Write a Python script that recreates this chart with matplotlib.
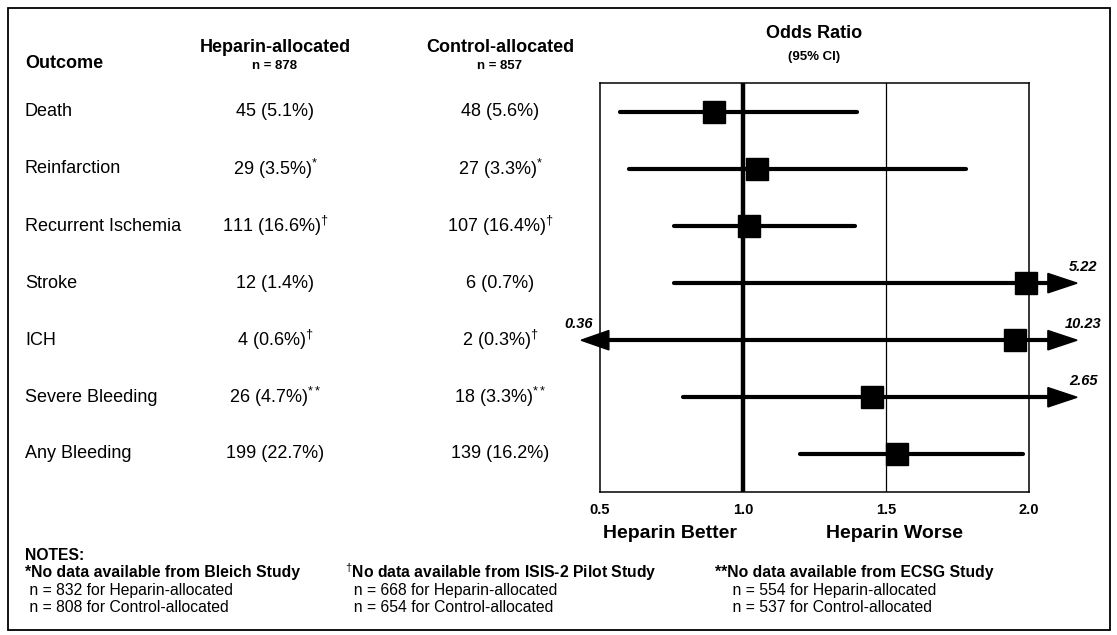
import matplotlib
matplotlib.use('Agg')
import matplotlib.pyplot as plt
from matplotlib.patches import Rectangle, Polygon

plt.rcParams['font.family'] = ['Liberation Sans', 'DejaVu Sans']
plt.rcParams['mathtext.fontset'] = 'custom'
plt.rcParams['mathtext.rm'] = 'Liberation Sans'
plt.rcParams['mathtext.bf'] = 'Liberation Sans:bold'

# data
outcomes = ['Death', 'Reinfarction', 'Recurrent Ischemia', 'Stroke', 'ICH',
            'Severe Bleeding', 'Any Bleeding']
heparin_vals = ['45 (5.1%)', '29 (3.5%)$^{*}$', '111 (16.6%)$^{†}$', '12 (1.4%)',
                '4 (0.6%)$^{†}$', '26 (4.7%)$^{**}$', '199 (22.7%)']
control_vals = ['48 (5.6%)', '27 (3.3%)$^{*}$', '107 (16.4%)$^{†}$', '6 (0.7%)',
                '2 (0.3%)$^{†}$', '18 (3.3%)$^{**}$', '139 (16.2%)']
odds = [0.90, 1.05, 1.02, 1.99, 1.95, 1.45, 1.54]
ci_lo = [0.57, 0.60, 0.76, 0.76, 0.36, 0.79, 1.20]
ci_hi = [1.40, 1.78, 1.39, 5.22, 10.23, 2.65, 1.98]
xticks = [0.5, 1.0, 1.5, 2.0]
notes = [
    ['NOTES:', '*No data available from Bleich Study',
     ' n = 832 for Heparin-allocated', ' n = 808 for Control-allocated'],
    ['', '$^{†}$No data available from ISIS-2 Pilot Study',
     '  n = 668 for Heparin-allocated', '  n = 654 for Control-allocated'],
    ['', '**No data available from ECSG Study',
     '    n = 554 for Heparin-allocated', '    n = 537 for Control-allocated'],
]

W, H = 1117, 635
fig = plt.figure(figsize=(W / 100, H / 100), dpi=100)


def ftext(x, y, s, **kw):
    fig.text(x / W, 1 - y / H, s, **kw)


# outer frame
fig.patches.append(Rectangle((8 / W, 1 - 630 / H), 1102 / W, 622 / H,
                             transform=fig.transFigure, fill=False,
                             lw=1.3, ec='black'))

# forest axes
bx0, bx1, by0, by1 = 600, 1029, 83, 492
ax = fig.add_axes([bx0 / W, 1 - by1 / H, (bx1 - bx0) / W, (by1 - by0) / H])
ax.set_xlim(0.5, 2.0)
ax.set_ylim(6.66, -0.507)
for sp in ax.spines.values():
    sp.set_linewidth(1.1)
ax.set_yticks([])
ax.set_xticks(xticks)
ax.set_xticklabels(['%.1f' % t for t in xticks], fontweight='bold', fontsize=10.5)
ax.tick_params(axis='x', length=0, pad=8)
ax.axvline(1.0, color='black', lw=3.2, zorder=2)
ax.axvline(1.5, color='black', lw=0.9, zorder=2)

head_w = 0.17
for i in range(len(outcomes)):
    lo, hi, orv = ci_lo[i], ci_hi[i], odds[i]
    x0 = lo if lo >= 0.5 else 0.531
    x1 = hi if hi <= 2.0 else 2.066
    ax.plot([x0, x1], [i, i], color='black', lw=3, solid_capstyle='round',
            zorder=3, clip_on=False)
    if hi > 2.0:
        ax.add_patch(Polygon([[2.066, i - head_w], [2.066, i + head_w], [2.168, i]],
                             closed=True, color='black', clip_on=False, zorder=3))
        ax.text(2.19, i - 0.29, '%.2f' % hi, fontsize=10.5, fontweight='bold',
                fontstyle='italic', ha='center', va='center')
    if lo < 0.5:
        ax.add_patch(Polygon([[0.531, i - head_w], [0.531, i + head_w], [0.434, i]],
                             closed=True, color='black', clip_on=False, zorder=3))
        ax.text(0.425, i - 0.29, '%.2f' % lo, fontsize=10.5, fontweight='bold',
                fontstyle='italic', ha='center', va='center')
    ax.plot(orv, i, marker='s', ms=15.5, color='black', zorder=4, clip_on=False)

# headers
col_h, col_c = 275, 500
ftext(25, 64, 'Outcome', fontsize=13, fontweight='bold', va='center')
ftext(col_h, 48, 'Heparin-allocated', fontsize=13, fontweight='bold', ha='center', va='center')
ftext(col_h, 66, 'n = 878', fontsize=9.5, fontweight='bold', ha='center', va='center')
ftext(col_c, 48, 'Control-allocated', fontsize=13, fontweight='bold', ha='center', va='center')
ftext(col_c, 66, 'n = 857', fontsize=9.5, fontweight='bold', ha='center', va='center')
ftext(814, 34, 'Odds Ratio', fontsize=13, fontweight='bold', ha='center', va='center')
ftext(814, 57, '(95% CI)', fontsize=9.5, fontweight='bold', ha='center', va='center')

# table rows
row_y0, row_dy = 112, 57.0
for i in range(len(outcomes)):
    y = row_y0 + i * row_dy
    ftext(25, y, outcomes[i], fontsize=13, va='center')
    ftext(col_h, y, heparin_vals[i], fontsize=13, ha='center', va='center')
    ftext(col_c, y, control_vals[i], fontsize=13, ha='center', va='center')

ftext(670, 533, 'Heparin Better', fontsize=14, fontweight='bold', ha='center', va='center')
ftext(895, 533, 'Heparin Worse', fontsize=14, fontweight='bold', ha='center', va='center')

# notes
col_x = [25, 345, 715]
for c, lines in enumerate(notes):
    for k, s in enumerate(lines):
        if not s:
            continue
        wt = 'bold' if k < 2 else 'normal'
        ftext(col_x[c], 555 + k * 17.5, s, fontsize=11.3, fontweight=wt, va='center')

fig.savefig('out.png', dpi=100)
